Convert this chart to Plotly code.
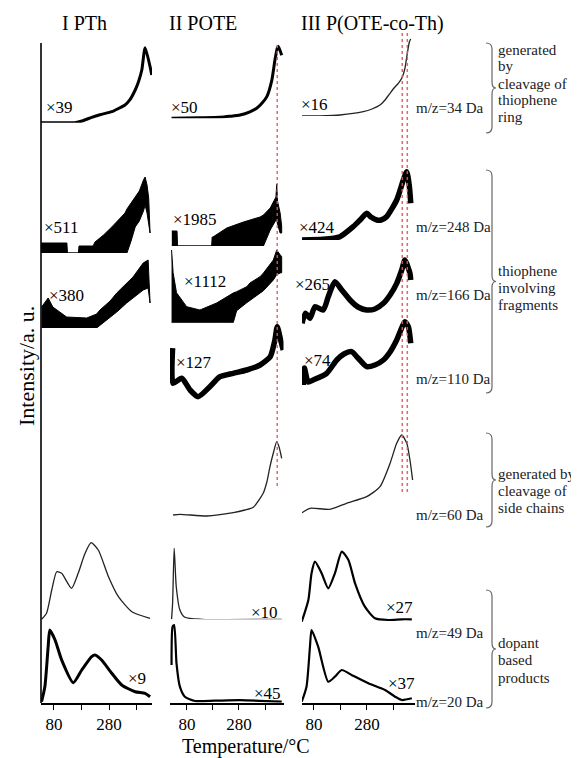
import plotly.graph_objects as go

W, H = 579, 758
OFF = 8  # page body margin offset of the plot div

# ---------------- data: temperature (°C) and intensity (a.u.) ----------------
# Column I  PTh
t_pth_34 = [33, 102, 156, 185, 217, 247, 290, 313, 338, 356, 375, 387, 399, 411, 429, 435]
i_pth_34 = [0, 0, 0, 2, 5.4, 8, 11, 14, 17.7, 23, 32.7, 41, 52.7, 75, 56, 47.7]

t_pth_248 = [33, 127, 129, 169, 171, 222, 229, 260, 290, 315, 338, 345, 360, 375, 390, 405, 411, 418, 424, 429]
hi_pth_248 = [10, 10, 0, 0, 7, 7, 11, 18, 26, 33, 40, 44, 50, 56, 62, 73, 76, 68, 55, 20]
lo_pth_248 = [0, 0, 0, 0, 0, 0, 0, 0, 0, 0, 0, 0, 12, 26, 32, 42, 48, 40, 30, 20]

t_pth_166 = [35, 59, 76, 126, 199, 235, 247, 284, 308, 344, 367, 404, 422, 429]
hi_pth_166 = [21, 30, 21, 11, 10, 14, 18, 27, 35, 45, 51, 65, 68, 25]
lo_pth_166 = [0, 0, 0, 0, 0, 0, 3, 11, 16, 25, 30, 38, 40, 25]

t_pth_49 = [35, 53, 72, 90, 108, 144, 168, 193, 215, 241, 278, 314, 363, 429]
i_pth_49 = [0.7, 6.7, 30, 48.3, 46.7, 31.7, 46.7, 66.7, 77.3, 70, 43.3, 23.3, 8.3, 1.7]

t_pth_20 = [35, 47, 59, 65, 84, 108, 150, 181, 217, 229, 253, 290, 326, 375, 411, 429]
i_pth_20 = [1, 16, 56, 72.7, 62.7, 42.7, 20, 32.7, 46, 47.7, 42.7, 29.4, 17.7, 11, 9.4, 6]

# Column II  POTE
t_pote_34 = [21, 130, 207, 245, 284, 322, 348, 368, 387, 406, 418, 427, 431, 444]
i_pote_34 = [0, 0.5, 1, 2, 3.3, 6.5, 10, 15, 21.7, 38, 58, 70, 72, 63]

t_pote_248 = [22, 42, 44, 175, 177, 180, 233, 297, 361, 374, 400, 422, 425, 428, 438, 444]
hi_pote_248 = [15, 15, 0, 0, 9, 9, 18, 24, 29, 31, 38, 49, 62, 45, 33, 20]
lo_pote_248 = [0, 0, 0, 0, 0, 0, 0, 0, 0, 0, 16, 26, 26, 22, 13, 13]

t_pote_166 = [21, 23, 27, 40, 79, 130, 194, 258, 271, 310, 322, 361, 374, 412, 425, 438, 444]
hi_pote_166 = [72.7, 60, 50, 30, 16, 12.7, 19.7, 29.7, 31, 36, 39.7, 46, 49.7, 62.7, 72.7, 68, 66]
lo_pote_166 = [0, 0, 0, 0, 0, 0, 0, 0, 12, 20, 22, 29.7, 32, 42.7, 48, 49.7, 50]

t_pote_110 = [25, 27, 60, 92, 123, 168, 207, 258, 310, 361, 400, 418, 427, 440, 450]
i_pote_110 = [52, 16.7, 21.7, 10, 3.3, 13.3, 23.3, 26.7, 30, 35, 43.3, 60, 73.3, 60, 50]

t_pote_60 = [27, 53, 156, 258, 303, 335, 373, 387, 399, 413, 425, 434, 444]
i_pote_60 = [2, 2.7, 1, 4.3, 7, 9.7, 23.7, 35, 50.3, 65, 75.3, 70, 58.7]

t_pote_49 = [21, 25, 31, 39, 53, 72, 137, 444]
i_pote_49 = [0, 16, 71, 32.6, 9.3, 2, 0, 0]

t_pote_20 = [21, 25, 31, 40, 53, 72, 111, 188, 284, 444]
i_pote_20 = [37.7, 76, 77.7, 39.4, 16, 6, 1.7, 2, 2.5, 1]

# Column III  P(OTE-co-Th)
t_cop_34 = [35, 103, 178, 266, 299, 329, 348, 367, 382, 398, 411, 423, 432, 440, 445]
i_cop_34 = [0, 0.2, 1, 4.3, 7, 11, 16, 22.7, 28, 32.7, 37.7, 47.7, 62.7, 74.3, 77]

t_cop_248 = [35, 115, 178, 228, 254, 279, 295, 317, 333, 354, 392, 417, 430, 440, 445]
i_cop_248 = [0, 0.7, 3.3, 13.3, 20, 26.7, 23, 20, 20, 23.3, 40, 60, 68.3, 53, 36.7]

t_cop_166 = [35, 48, 65, 84, 115, 134, 159, 185, 216, 246, 279, 310, 342, 367, 392, 411, 423, 442, 445]
i_cop_166 = [6.7, 16.7, 11.7, 23.3, 20, 33.3, 48.3, 40, 30, 23, 20, 21, 26.7, 35, 46.7, 60, 70, 56.7, 50]

t_cop_110 = [40, 44, 58, 77, 128, 166, 193, 222, 246, 279, 310, 342, 367, 392, 423, 436, 445]
i_cop_110 = [5, 22, 8, 10, 16.7, 30, 36, 38.3, 32, 23.3, 25, 30, 38, 50, 68.3, 63.3, 46.7]

t_cop_60 = [35, 65, 140, 203, 279, 329, 367, 392, 411, 430, 442, 452]
i_cop_60 = [2.3, 6.7, 5.7, 11.7, 18.3, 28.3, 51.7, 71.7, 80, 71.7, 55, 35]

t_cop_49 = [34, 59, 71, 84, 109, 134, 159, 185, 210, 235, 272, 310, 360, 411, 449]
i_cop_49 = [0.3, 22, 48.7, 60.3, 48.7, 33.7, 48.7, 70.3, 62, 38.7, 15.3, 3.7, 2, 2.7, 2.7]

t_cop_20 = [34, 52, 65, 71, 96, 134, 159, 185, 222, 285, 348, 386, 411, 449]
i_cop_20 = [1, 16, 56, 72.7, 56, 21, 26, 32.7, 27.7, 19.4, 12.7, 6, 2.7, 4.4]

# tick labels and text
tick_vals = [80, 180, 280, 380]
tick_text = ["80", "", "280", ""]
col_titles = ["I PTh", "II POTE", "III P(OTE-co-Th)"]
mz_labels = ["m/z=34 Da", "m/z=248 Da", "m/z=166 Da", "m/z=110 Da", "m/z=60 Da", "m/z=49 Da", "m/z=20 Da"]
peak_T_pote = [427]
peak_T_cop = [413, 432]

# ---------------- layout helpers ----------------
FONT = "Liberation Serif"
FW, FH = W - OFF, H - OFF


def px_x(px):
    return (px - OFF) / FW


def px_y(py):
    return 1 - (py - OFF) / FH


col_dom = [(41, 152), (170, 283.5), (302, 415)]
col_rng = [(33, 436), (15, 451), (35, 461)]

# (column, baseline px, t, hi, lo, style, multiplier, label x px, label y px)
curves = [
    (0, 122.7, t_pth_34, i_pth_34, None, "med", "×39", 46, 108),
    (0, 253, t_pth_248, hi_pth_248, lo_pth_248, "band", "×511", 44, 227),
    (0, 328, t_pth_166, hi_pth_166, lo_pth_166, "band", "×380", 49, 295),
    (0, 620, t_pth_49, i_pth_49, None, "thin", None, 0, 0),
    (0, 702.7, t_pth_20, i_pth_20, None, "med", "×9", 128, 678),
    (1, 118.3, t_pote_34, i_pote_34, None, "med", "×50", 171, 107),
    (1, 246, t_pote_248, hi_pote_248, lo_pote_248, "band", "×1985", 173, 220),
    (1, 322.7, t_pote_166, hi_pote_166, lo_pote_166, "band", "×1112", 184, 282),
    (1, 400, t_pote_110, i_pote_110, None, "thick", "×127", 176, 362),
    (1, 517, t_pote_60, i_pote_60, None, "thin", None, 0, 0),
    (1, 619.3, t_pote_49, i_pote_49, None, "thin", "×10", 251, 612),
    (1, 702.7, t_pote_20, i_pote_20, None, "mid2", "×45", 254, 693),
    (2, 116, t_cop_34, i_cop_34, None, "thin", "×16", 301, 105),
    (2, 240, t_cop_248, i_cop_248, None, "thick", "×424", 299, 227),
    (2, 330, t_cop_166, i_cop_166, None, "thick", "×265", 295, 285),
    (2, 390, t_cop_110, i_cop_110, None, "thick", "×74", 304, 360),
    (2, 515, t_cop_60, i_cop_60, None, "thin", None, 0, 0),
    (2, 622, t_cop_49, i_cop_49, None, "mid2", "×27", 386, 607),
    (2, 702.7, t_cop_20, i_cop_20, None, "mid2", "×37", 388, 683),
]

fig = go.Figure()
layout = dict(
    width=FW, height=FH, autosize=False,
    margin=dict(l=0, r=0, t=0, b=0),
    paper_bgcolor="white", plot_bgcolor="rgba(0,0,0,0)",
    showlegend=False,
    font=dict(family=FONT, color="black"),
)

bottom_axis = {}
annotations = []
for k, (col, base, t, hi, lo, style, mult, lx, ly) in enumerate(curves):
    yid = "y" if k == 0 else f"y{k+1}"
    ykey = "yaxis" if k == 0 else f"yaxis{k+1}"
    xid = "x" if col == 0 else f"x{col+1}"
    layout[ykey] = dict(
        domain=[px_y(base), px_y(base - 100)], range=[0, 100],
        visible=False, anchor=xid, fixedrange=True,
    )
    bottom_axis[col] = yid  # last one (bottom) wins
    if style == "band":
        xs = list(t) + list(reversed(t))
        ys = list(hi) + list(reversed(lo))
        fig.add_trace(go.Scatter(x=xs, y=ys, xaxis=xid, yaxis=yid, mode="lines",
                                 fill="toself", fillcolor="black",
                                 line=dict(color="black", width=1), hoverinfo="skip"))
    else:
        wdt = {"thin": 1.3, "med": 3, "thick": 5.5, "mid2": 2.2}[style]
        fig.add_trace(go.Scatter(x=t, y=hi, xaxis=xid, yaxis=yid, mode="lines",
                                 line=dict(color="black" if style != "thin" else "#222",
                                           width=wdt, shape="spline", smoothing=0.6),
                                 hoverinfo="skip"))
    if mult:
        annotations.append(dict(text=mult, x=px_x(lx - 2), y=px_y(ly), xref="paper", yref="paper",
                                xanchor="left", yanchor="middle", showarrow=False,
                                font=dict(size=17, family=FONT, color="black")))

for col in range(3):
    xkey = "xaxis" if col == 0 else f"xaxis{col+1}"
    layout[xkey] = dict(
        domain=[px_x(col_dom[col][0]), px_x(col_dom[col][1])],
        range=list(col_rng[col]), anchor=bottom_axis[col],
        showline=True, linecolor="black", linewidth=1.6,
        ticks="outside", ticklen=5, tickwidth=1.4, tickcolor="black",
        tickvals=tick_vals, ticktext=tick_text,
        tickfont=dict(size=17, family=FONT, color="black"),
        showgrid=False, zeroline=False, fixedrange=True,
    )

# column titles
for txt, cx in zip(col_titles, [84, 203, 372]):
    annotations.append(dict(text=txt, x=px_x(cx), y=px_y(23), xref="paper", yref="paper",
                            xanchor="center", yanchor="middle", showarrow=False,
                            font=dict(size=20, family=FONT, color="black")))

# m/z labels
for txt, py in zip(mz_labels, [108, 227, 295, 379, 515, 633, 702]):
    annotations.append(dict(text=txt, x=px_x(414), y=px_y(py), xref="paper", yref="paper",
                            xanchor="left", yanchor="middle", showarrow=False,
                            font=dict(size=15, family=FONT, color="#222")))

# bracket group texts
groups = [
    (["generated", "by", "cleavage of", "thiophene", "ring"], [50, 66, 84, 100, 117], (43, 133)),
    (["thiophene", "involving", "fragments"], [271, 288, 305], (170, 393)),
    (["generated by", "cleavage of", "side chains"], [474, 491, 508], (433, 527)),
    (["dopant", "based", "products"], [643, 660, 678], (590, 708)),
]
shapes = []
for lines, ys, (top, bot) in groups:
    for txt, py in zip(lines, ys):
        annotations.append(dict(text=txt, x=px_x(496), y=px_y(py), xref="paper", yref="paper",
                                xanchor="left", yanchor="middle", showarrow=False,
                                font=dict(size=15, family=FONT, color="#222")))
    mid = (top + bot) / 2
    x0, x1, x2 = px_x(486), px_x(492), px_x(496)
    r = 6
    path = (f"M {x0},{px_y(top)} Q {x1},{px_y(top)} {x1},{px_y(top + r)} "
            f"L {x1},{px_y(mid - r)} Q {x1},{px_y(mid)} {x2},{px_y(mid)} "
            f"Q {x1},{px_y(mid)} {x1},{px_y(mid + r)} "
            f"L {x1},{px_y(bot - r)} Q {x1},{px_y(bot)} {x0},{px_y(bot)}")
    shapes.append(dict(type="path", path=path, xref="paper", yref="paper",
                       line=dict(color="#666", width=1.2)))

# axis titles
annotations.append(dict(text="Temperature/°C", x=px_x(246), y=px_y(746), xref="paper", yref="paper",
                        xanchor="center", yanchor="middle", showarrow=False,
                        font=dict(size=20, family=FONT, color="black")))
annotations.append(dict(text="Intensity/a. u.", x=px_x(26), y=px_y(366), xref="paper", yref="paper",
                        xanchor="center", yanchor="middle", showarrow=False, textangle=-90,
                        font=dict(size=22, family=FONT, color="black")))

# left intensity axis line (column I)
shapes.append(dict(type="line", xref="paper", yref="paper", x0=px_x(41), x1=px_x(41),
                   y0=px_y(43), y1=px_y(703), line=dict(color="black", width=1.6)))

# red dashed reference lines at peak temperatures
for tp in peak_T_pote:
    shapes.append(dict(type="line", xref="x2", yref="paper", x0=tp, x1=tp,
                       y0=px_y(45), y1=px_y(488),
                       line=dict(color="rgba(215,90,90,0.9)", width=1.5, dash="3px,3px")))
for tp in peak_T_cop:
    shapes.append(dict(type="line", xref="x3", yref="paper", x0=tp, x1=tp,
                       y0=px_y(33), y1=px_y(495),
                       line=dict(color="rgba(215,90,90,0.9)", width=1.5, dash="3px,3px")))

layout["annotations"] = annotations
layout["shapes"] = shapes
fig.update_layout(**layout)
fig.write_html("out.html")
